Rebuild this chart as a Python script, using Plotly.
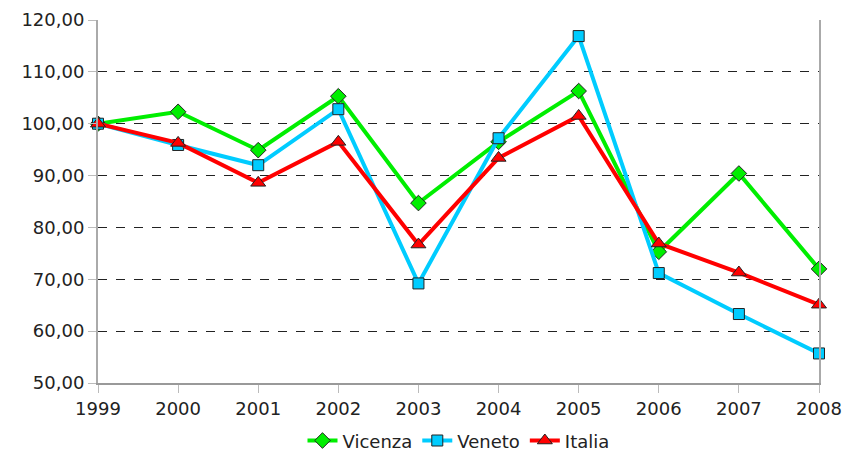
import plotly.graph_objects as go

years = [1999, 2000, 2001, 2002, 2003, 2004, 2005, 2006, 2007, 2008]
vicenza = [100.0, 102.3, 94.9, 105.3, 84.7, 96.5, 106.3, 75.3, 90.4, 72.0]
veneto = [100.0, 95.9, 92.0, 102.8, 69.2, 97.2, 116.9, 71.2, 63.3, 55.7]
italia = [100.0, 96.3, 88.6, 96.5, 76.7, 93.4, 101.5, 76.9, 71.3, 65.1]
y_ticks = [50, 60, 70, 80, 90, 100, 110, 120]
y_labels = ["50,00", "60,00", "70,00", "80,00", "90,00", "100,00", "110,00", "120,00"]

fig = go.Figure()
series = [
    ("Vicenza", vicenza, "#00ee00", "diamond", 12),
    ("Veneto", veneto, "#00ccff", "square", 11),
    ("Italia", italia, "#ff0000", "triangle-up", 13),
]
for name, vals, col, sym, sz in series:
    fig.add_trace(go.Scatter(
        x=years, y=vals, name=name, mode="lines+markers",
        line=dict(color=col, width=4),
        marker=dict(symbol=sym, size=sz, color=col, line=dict(color="#222222", width=1)),
        cliponaxis=False,
    ))

fig.update_layout(
    width=836, height=443,
    margin=dict(l=90, r=25, t=12, b=68, autoexpand=False),
    plot_bgcolor="white", paper_bgcolor="white",
    font=dict(family="DejaVu Sans", size=18, color="#222222"),
    showlegend=True,
    legend=dict(orientation="h", x=0.5, xanchor="center",
                yref="container", y=0.023, yanchor="middle",
                font=dict(size=18), itemwidth=30, tracegroupgap=0),
)
fig.update_xaxes(
    range=[1999, 2008], tickvals=years, ticktext=[str(y) for y in years],
    showgrid=False, zeroline=False, automargin=False,
    showline=True, linecolor="#999999", linewidth=2,
    ticks="outside", ticklen=8, tickcolor="#bbbbbb", tickwidth=1,
)
fig.update_yaxes(
    range=[50, 120], tickvals=y_ticks, ticktext=y_labels,
    showgrid=True, gridcolor="#222222", griddash="dash", gridwidth=1,
    zeroline=False, automargin=False,
    showline=True, linecolor="#aaaaaa", linewidth=2, mirror=True,
    ticks="outside", ticklen=8, tickcolor="#bbbbbb", tickwidth=1,
)

fig.write_html("out.html")
